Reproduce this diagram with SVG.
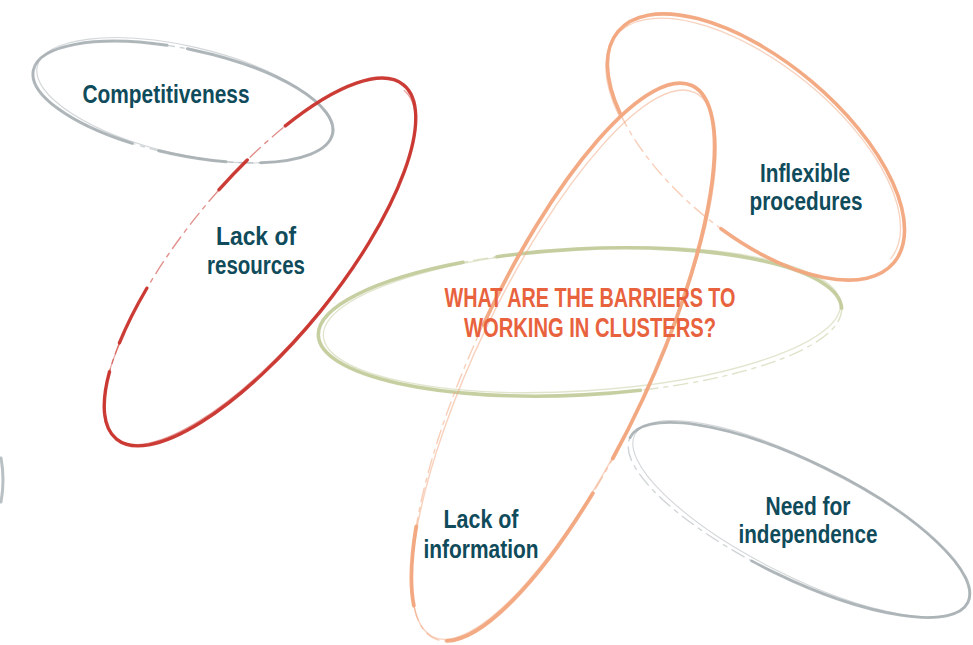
<svg xmlns="http://www.w3.org/2000/svg" width="973" height="645" viewBox="0 0 973 645">
<style>
.bg{fill:#ffffff}
.ring{fill:none;stroke-linecap:round}
.gray{stroke:#a8b0b4}
.red{stroke:#c9342d}
.green{stroke:#c3cc9c}
.orange{stroke:#f2a67e}
.faint{stroke-width:1.4;opacity:0.55;stroke-dasharray:14 6 4 6}
.lbl{font-family:"Liberation Sans","Arial",sans-serif;font-size:26px;font-weight:bold;fill:#0f4b5b;text-anchor:middle}
.title{font-family:"Liberation Sans","Arial",sans-serif;font-size:27px;font-weight:bold;fill:#e8623d;text-anchor:middle}
</style>
<rect class="bg" x="0" y="0" width="973" height="645"/>

<g id="node-competitiveness">
  <g transform="translate(183,102) rotate(12)">
    <ellipse class="ring gray faint" cx="0" cy="0" rx="153" ry="53"/>
    <ellipse class="ring gray" cx="0" cy="0" rx="153" ry="53" stroke-width="3" pathLength="100" stroke-dasharray="12 5 10 4 40 3 26 0" opacity="0.9"/>
    <ellipse class="ring gray" cx="1" cy="-2" rx="151" ry="54" transform="rotate(1)" stroke-width="1.2" opacity="0.5"/>
  </g>
  <text class="lbl" x="166" y="103" textLength="167" lengthAdjust="spacingAndGlyphs">Competitiveness</text>
</g>

<g id="node-lack-of-resources">
  <g transform="translate(260,262) rotate(-51)">
    <ellipse class="ring red faint" cx="0" cy="0" rx="228" ry="78"/>
    <ellipse class="ring red" cx="0" cy="0" rx="228" ry="78" stroke-width="3.4" pathLength="100" stroke-dasharray="57 3 6 12 4 5 13 0" opacity="0.95"/>
    <ellipse class="ring red" cx="-2" cy="1" rx="226" ry="76" transform="rotate(0.8)" stroke-width="1.2" opacity="0.45" pathLength="100" stroke-dasharray="60 40"/>
  </g>
  <text class="lbl" x="256" y="245" textLength="80" lengthAdjust="spacingAndGlyphs">Lack of</text>
  <text class="lbl" x="256" y="274" textLength="98" lengthAdjust="spacingAndGlyphs">resources</text>
</g>

<g id="node-barriers">
  <g transform="translate(580,322) rotate(-3)">
    <ellipse class="ring green faint" cx="0" cy="0" rx="262" ry="73"/>
    <ellipse class="ring green" cx="0" cy="0" rx="262" ry="73" stroke-width="3.6" pathLength="100" stroke-dasharray="0 20 45 3 32 0" opacity="0.95"/>
    <ellipse class="ring green" cx="2" cy="-2" rx="259" ry="71" transform="rotate(-0.6)" stroke-width="1.3" opacity="0.5"/>
  </g>
</g>

<g id="node-inflexible-procedures">
  <g transform="translate(756,147) rotate(40)">
    <ellipse class="ring orange faint" cx="0" cy="0" rx="180" ry="86"/>
    <ellipse class="ring orange" cx="0" cy="0" rx="180" ry="86" stroke-width="3.6" pathLength="100" stroke-dasharray="22 18 60 0" opacity="0.95"/>
    <ellipse class="ring orange" cx="-2" cy="2" rx="177" ry="84" transform="rotate(-1)" stroke-width="1.3" opacity="0.5" pathLength="100" stroke-dasharray="0 40 60 0"/>
  </g>
  <text class="lbl" x="805" y="182" textLength="90" lengthAdjust="spacingAndGlyphs">Inflexible</text>
  <text class="lbl" x="806" y="210" textLength="113" lengthAdjust="spacingAndGlyphs">procedures</text>
</g>

<g id="node-lack-of-information">
  <g transform="translate(563,362) rotate(-65)">
    <ellipse class="ring orange faint" cx="0" cy="0" rx="305" ry="88"/>
    <ellipse class="ring orange" cx="0" cy="0" rx="305" ry="88" stroke-width="3.8" pathLength="100" stroke-dasharray="30 3 16 4 6 16 25 0" opacity="0.95"/>
    <ellipse class="ring orange" cx="-2" cy="2" rx="302" ry="86" transform="rotate(0.7)" stroke-width="1.4" opacity="0.5"/>
  </g>
  <text class="lbl" x="481" y="528" textLength="75" lengthAdjust="spacingAndGlyphs">Lack of</text>
  <text class="lbl" x="481" y="558" textLength="115" lengthAdjust="spacingAndGlyphs">information</text>
</g>

<g id="node-need-for-independence">
  <g transform="translate(799,520) rotate(26)">
    <ellipse class="ring gray faint" cx="0" cy="0" rx="188" ry="58"/>
    <ellipse class="ring gray" cx="0" cy="0" rx="188" ry="58" stroke-width="2.8" pathLength="100" stroke-dasharray="28 22 50 0" opacity="0.9"/>
    <ellipse class="ring gray" cx="1" cy="-2" rx="186" ry="57" transform="rotate(0.8)" stroke-width="1.1" opacity="0.5"/>
  </g>
  <text class="lbl" x="808" y="515" textLength="85" lengthAdjust="spacingAndGlyphs">Need for</text>
  <text class="lbl" x="808" y="543" textLength="139" lengthAdjust="spacingAndGlyphs">independence</text>
</g>

<g id="node-question">
  <text class="title" x="590" y="307" textLength="291" lengthAdjust="spacingAndGlyphs">WHAT ARE THE BARRIERS TO</text>
  <text class="title" x="590" y="337" textLength="252" lengthAdjust="spacingAndGlyphs">WORKING IN CLUSTERS?</text>
</g>

<g id="edge-fragment">
  <path class="ring gray" d="M1,458 Q5,480 1,502" stroke-width="3" opacity="0.8"/>
</g>

<g id="connectors"></g>
</svg>
